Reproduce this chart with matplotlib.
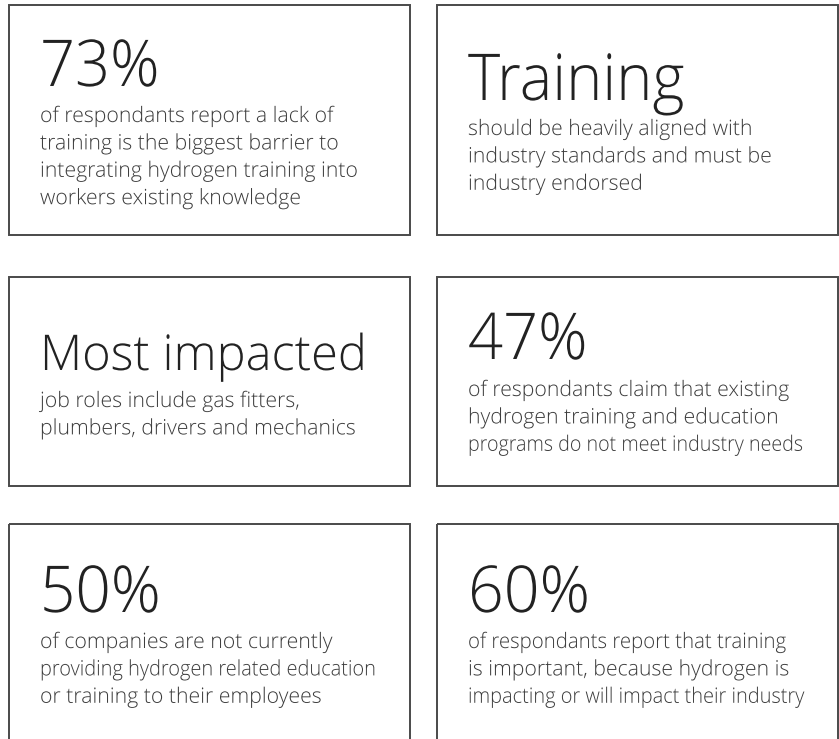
import os
import matplotlib
matplotlib.use("Agg")
import matplotlib.pyplot as plt
from matplotlib.patches import Rectangle
from matplotlib import font_manager as fm
from matplotlib import patheffects as pe
from matplotlib.transforms import Affine2D

# ---- content ----
headlines = ["73%", "Training", "Most impacted", "47%", "50%", "60%"]
descriptions = [
    ["of respondants report a lack of",
     "training is the biggest barrier to",
     "integrating hydrogen training into",
     "workers existing knowledge"],
    ["should be heavily aligned with",
     "industry standards and must be",
     "industry endorsed"],
    ["job roles include gas fitters,",
     "plumbers, drivers and mechanics"],
    ["of respondants claim that existing",
     "hydrogen training and education",
     "programs do not meet industry needs"],
    ["of companies are not currently",
     "providing hydrogen related education",
     "or training to their employees"],
    ["of respondants report that training",
     "is important, because hydrogen is",
     "impacting or will impact their industry"],
]

# ---- layout / style (pixels) ----
W, H = 839, 739
boxes = [  # x0, y0, x1, y1
    (8.5, 4.5, 410, 235), (436.5, 4.5, 838, 235),
    (8.5, 277, 410, 486), (436.5, 277, 838, 486),
    (8.5, 524, 410, 745), (436.5, 524, 838, 745),
]
head_base = [86, 100, 370, 359, 612, 612]
body_base = [122, 135, 407, 396, 648, 648]
head_size = [46.5, 46.5, 35.5, 46.5, 46.5, 46.5]
head_squeeze = [0.95, 0.95, 0.99, 0.95, 0.96, 0.97]
body_squeeze = {(3, 2): 0.926, (4, 1): 0.94, (5, 0): 0.96, (5, 2): 0.94}
pad = 31.5
line_h = 27.4
body_size = 15.3


class Squeeze(pe.AbstractPathEffect):
    """Horizontal condensing about a left anchor, with optional stroke thinning."""

    def __init__(self, sx, xd, erode=0.0):
        super().__init__()
        self.sx, self.xd, self.erode = sx, xd, erode

    def draw_path(self, renderer, gc, tpath, affine, rgbFace=None):
        t = affine + Affine2D().translate(-self.xd, 0).scale(self.sx, 1).translate(self.xd, 0)
        renderer.draw_path(gc, tpath, t, rgbFace)
        if self.erode > 0:
            gc0 = renderer.new_gc()
            gc0.copy_properties(gc)
            gc0.set_foreground("white")
            gc0.set_linewidth(self.erode)
            renderer.draw_path(gc0, tpath, t, None)
            gc0.restore()


# ---- font: Open Sans Light if a file exists, else thinned Regular ----
light_file = None
for f in fm.findSystemFonts():
    b = os.path.basename(f).lower().replace(" ", "").replace("-", "")
    if "opensans" in b and "light" in b and "italic" not in b and "semi" not in b \
            and "extra" not in b and "condensed" not in b:
        light_file = f
        break

if light_file:
    fp = fm.FontProperties(fname=light_file)
    erode_head, erode_body = 0.0, 0.0
else:
    fp = fm.FontProperties(family="Open Sans")
    erode_head, erode_body = 1.6, 0.25

fig = plt.figure(figsize=(W / 100, H / 100), dpi=100)
ax = fig.add_axes([0, 0, 1, 1])
ax.set_xlim(0, W)
ax.set_ylim(H, 0)
ax.axis("off")

for i, (x0, y0, x1, y1) in enumerate(boxes):
    ax.add_patch(Rectangle((x0, y0), x1 - x0, y1 - y0, fill=False,
                           edgecolor="#4a4a4a", linewidth=1.4))
    tx = x0 + pad
    xd = ax.transData.transform((tx, 0))[0]
    ax.text(tx, head_base[i], headlines[i], fontproperties=fp,
            fontsize=head_size[i], color="#222222", va="baseline", ha="left",
            path_effects=[Squeeze(head_squeeze[i], xd, erode_head)])
    for j, line in enumerate(descriptions[i]):
        sq = body_squeeze.get((i, j), 1.0)
        ax.text(tx, body_base[i] + j * line_h, line, fontproperties=fp,
                fontsize=body_size, color="#3c3c3c", va="baseline", ha="left",
                path_effects=[Squeeze(sq, xd, erode_body)])

fig.savefig("out.png", dpi=100)
